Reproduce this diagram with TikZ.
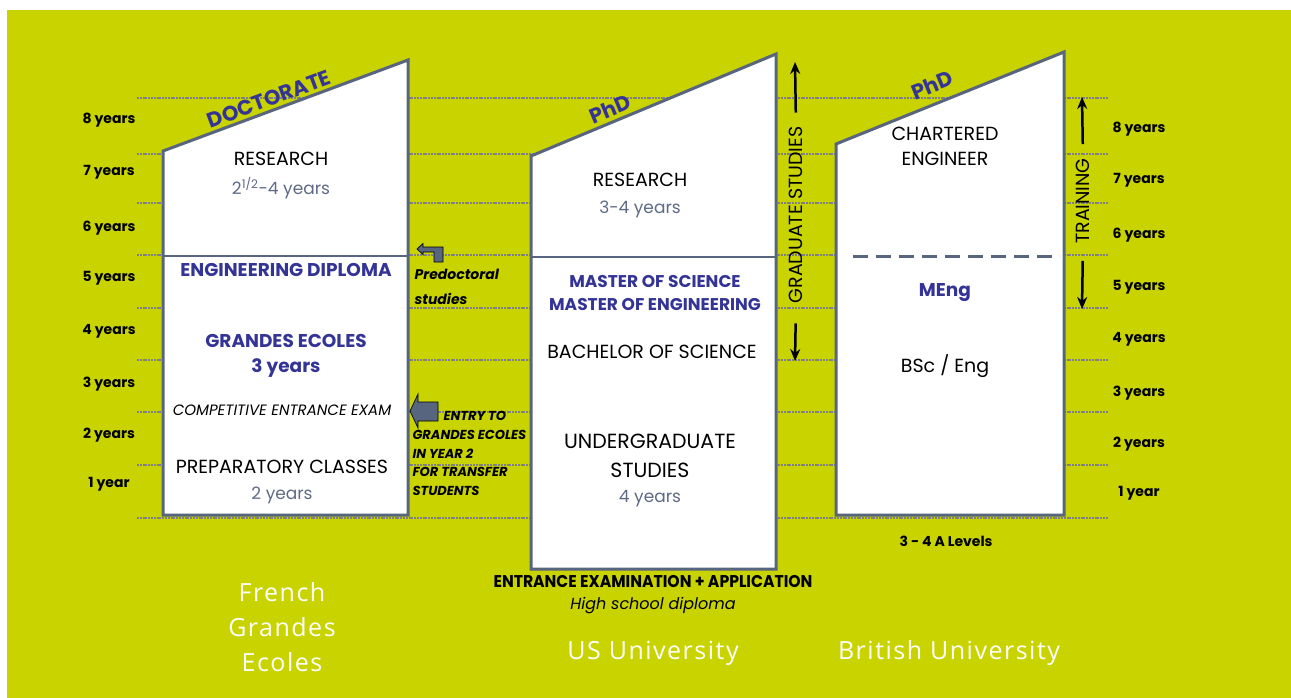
\documentclass[tikz,border=0pt]{standalone}
\usepackage{fontspec}
\setmainfont{Poppins}
\newfontfamily\condfont[FakeStretch=0.92]{Poppins}
\newfontfamily\footfont[LetterSpace=6.0]{Open Sans}
\usetikzlibrary{arrows,arrows.meta,positioning}
\definecolor{lime}{HTML}{C8D300}
\definecolor{boxline}{HTML}{58657F}
\definecolor{navy}{HTML}{343497}
\definecolor{slate}{HTML}{5E6A86}
\definecolor{dotgray}{HTML}{808080}
\newcommand{\fsz}[2]{\fontsize{#1}{#2}\selectfont}
\tikzset{
    %Define standard arrow tip
    >={Stealth[length=12pt,width=10pt]},
    %Define style for the year lines
    yeargrid/.style={
           draw=dotgray,
           line width=2.8pt,
           dash pattern=on 2pt off 0.8pt},
    %Define style for the columns
    colbox/.style={
           draw=boxline,
           line width=3pt,
           fill=white,
           line join=miter},
    divider/.style={
           draw=boxline,
           line width=2pt},
    yearlab/.style={
           font=\bfseries\fsz{14}{16},
           text=black},
    caps/.style={
           font=\fsz{19}{25},
           text=black,
           align=center},
    durtext/.style={
           font=\fsz{17}{20},
           text=slate},
    degreetext/.style={
           font=\bfseries\fsz{18.5}{23},
           text=navy,
           align=center},
    slantlabel/.style={
           font=\bfseries\fsz{21}{22},
           text=navy,
           inner sep=0pt},
    sidenote/.style={
           font=\bfseries\itshape\fsz{13}{18.7},
           text=black,
           align=left,
           anchor=west},
    vertlabel/.style={
           font=\fsz{19}{22},
           rotate=90,
           inner sep=0pt},
    countrylabel/.style={
           font=\footfont\fsz{25}{35},
           text=white,
           align=center},
    blockarrow/.style={
           fill=boxline,
           draw=black,
           line width=0.7pt},
    % Define arrow style
    pil/.style={
           ->,
           line width=2.5pt}
}

\begin{document}
\begin{tikzpicture}[x=1pt,y=-1pt]
\useasboundingbox (0,0) rectangle (1291,698);
\fill[lime] (7,10) rectangle (1291,698);
 %year lines
\foreach \y in {98,154,203,255,308,360,412,465,518}
  \draw[yeargrid] (137,\y) -- (1108,\y);
 %year labels
\foreach \n/\y in {8/120,7/172,6/228,5/278,4/331,3/384,2/435}
  \node[yearlab] (yl\n) at (109,\y) {\n{} years};
\node[yearlab] (yl1) at (109,484) {1 year};
\foreach \n/\y in {8/129,7/180,6/235,5/287,4/339,3/393,2/444}
  \node[yearlab] (yr\n) at (1139,\y) {\n{} years};
\node[yearlab] (yr1) at (1139,493) {1 year};

 %french grandes ecoles
\draw[colbox] (163,515) -- (163,151) -- (408,60) -- (408,515) -- cycle;
\draw[divider] (163,256) -- (408,256);
\node[slantlabel, rotate=20.4] (doctorate) at (269,99) {DOCTORATE};
\node[caps] (fres) at (281,159) {RESEARCH};
\node[durtext, below=4pt of fres] (fresdur) {2\textsuperscript{1/2}-4 years};
\node[degreetext] (fdipl) at (286,270) {ENGINEERING DIPLOMA};
\node[degreetext] (fge) at (286,341) {GRANDES ECOLES};
\node[degreetext, below=4pt of fge] (fgedur) {3 years};
\node[caps, font=\itshape\fsz{15}{17}] (fexam) at (282,410) {COMPETITIVE ENTRANCE EXAM};
\node[caps] (fprep) at (282,467) {PREPARATORY CLASSES};
\node[durtext, below=6pt of fprep] (fprepdur) {2 years};
 %side notes
\draw[blockarrow] (417,249) -- (423,243.5) -- (423,247) -- (443,247) -- (443,262)
  -- (434,262) -- (434,252) -- (423,252) -- (423,254.5) -- cycle;
\node[sidenote, font=\bfseries\itshape\fsz{14}{25}] (predoc) at (411,286.5) {Predoctoral\\studies};
\draw[blockarrow] (410,411) -- (418,394) -- (418,402) -- (438,402) -- (438,421)
  -- (418,421) -- (418,428) -- cycle;
\node[sidenote] (entry) at (409,453.5)
  {\hspace{31pt}ENTRY TO\\GRANDES ECOLES\\IN YEAR 2\\FOR TRANSFER\\STUDENTS};
\node[countrylabel] (french) at (282,627) {French\\Grandes\\Ecoles};

 %us university
\draw[colbox] (531,569) -- (531,156) -- (776,54) -- (776,569) -- cycle;
\draw[divider] (531,257) -- (776,257);
\node[slantlabel, rotate=22.6] (usphd) at (610,109) {PhD};
\node[caps] (ures) at (640,180) {RESEARCH};
\node[durtext, below=7pt of ures] (uresdur) {3-4 years};
\node[degreetext, font=\bfseries\fsz{17}{23}] (umaster) at (655,293.5) {MASTER OF SCIENCE\\MASTER OF ENGINEERING};
\node[caps] (ubach) at (652,352) {BACHELOR OF SCIENCE};
\node[caps, font=\fsz{20.5}{29}] (uunder) at (650,455.5) {UNDERGRADUATE\\STUDIES};
\node[durtext, below=6pt of uunder] (uunderdur) {4 years};
\node[vertlabel] (grad) at (796,215) {GRADUATE STUDIES};
\coordinate (gradtop) at (795,62);
\coordinate (gradbot) at (795,361);
\draw[pil, shorten <=14pt] (grad.east) -- (gradtop);
\draw[pil, shorten <=20pt] (grad.west) -- (gradbot);
\node[font=\condfont\bfseries\fsz{17}{18}] (uentr) at (653,582) {ENTRANCE EXAMINATION + APPLICATION};
\node[font=\itshape\fsz{16}{18}] (uhigh) at (653,606) {High school diploma};
\node[countrylabel] (us) at (653,653) {US University};

 %british university
\draw[colbox] (836,515) -- (836,144) -- (1064,52) -- (1064,515) -- cycle;
\draw[divider, line width=3pt, dash pattern=on 15pt off 8pt] (853,256) -- (1060,256);
\node[slantlabel, rotate=22] (brphd) at (932,85) {PhD};
\node[caps] (bchart) at (945,146.5) {CHARTERED\\ENGINEER};
\node[degreetext] (bmeng) at (945,293) {MEng};
\node[caps] (bbsc) at (945,366) {BSc / Eng};
\node[vertlabel] (train) at (1083,201) {TRAINING};
\coordinate (traintop) at (1082,97);
\coordinate (trainbot) at (1082,309);
\draw[pil, shorten <=14pt] (train.east) -- (traintop);
\draw[pil, shorten <=17pt] (train.west) -- (trainbot);
\node[font=\bfseries\fsz{14}{16}] (blev) at (946,541) {3 - 4 A Levels};
\node[countrylabel] (british) at (949,653) {British University};
\end{tikzpicture}
\end{document}
